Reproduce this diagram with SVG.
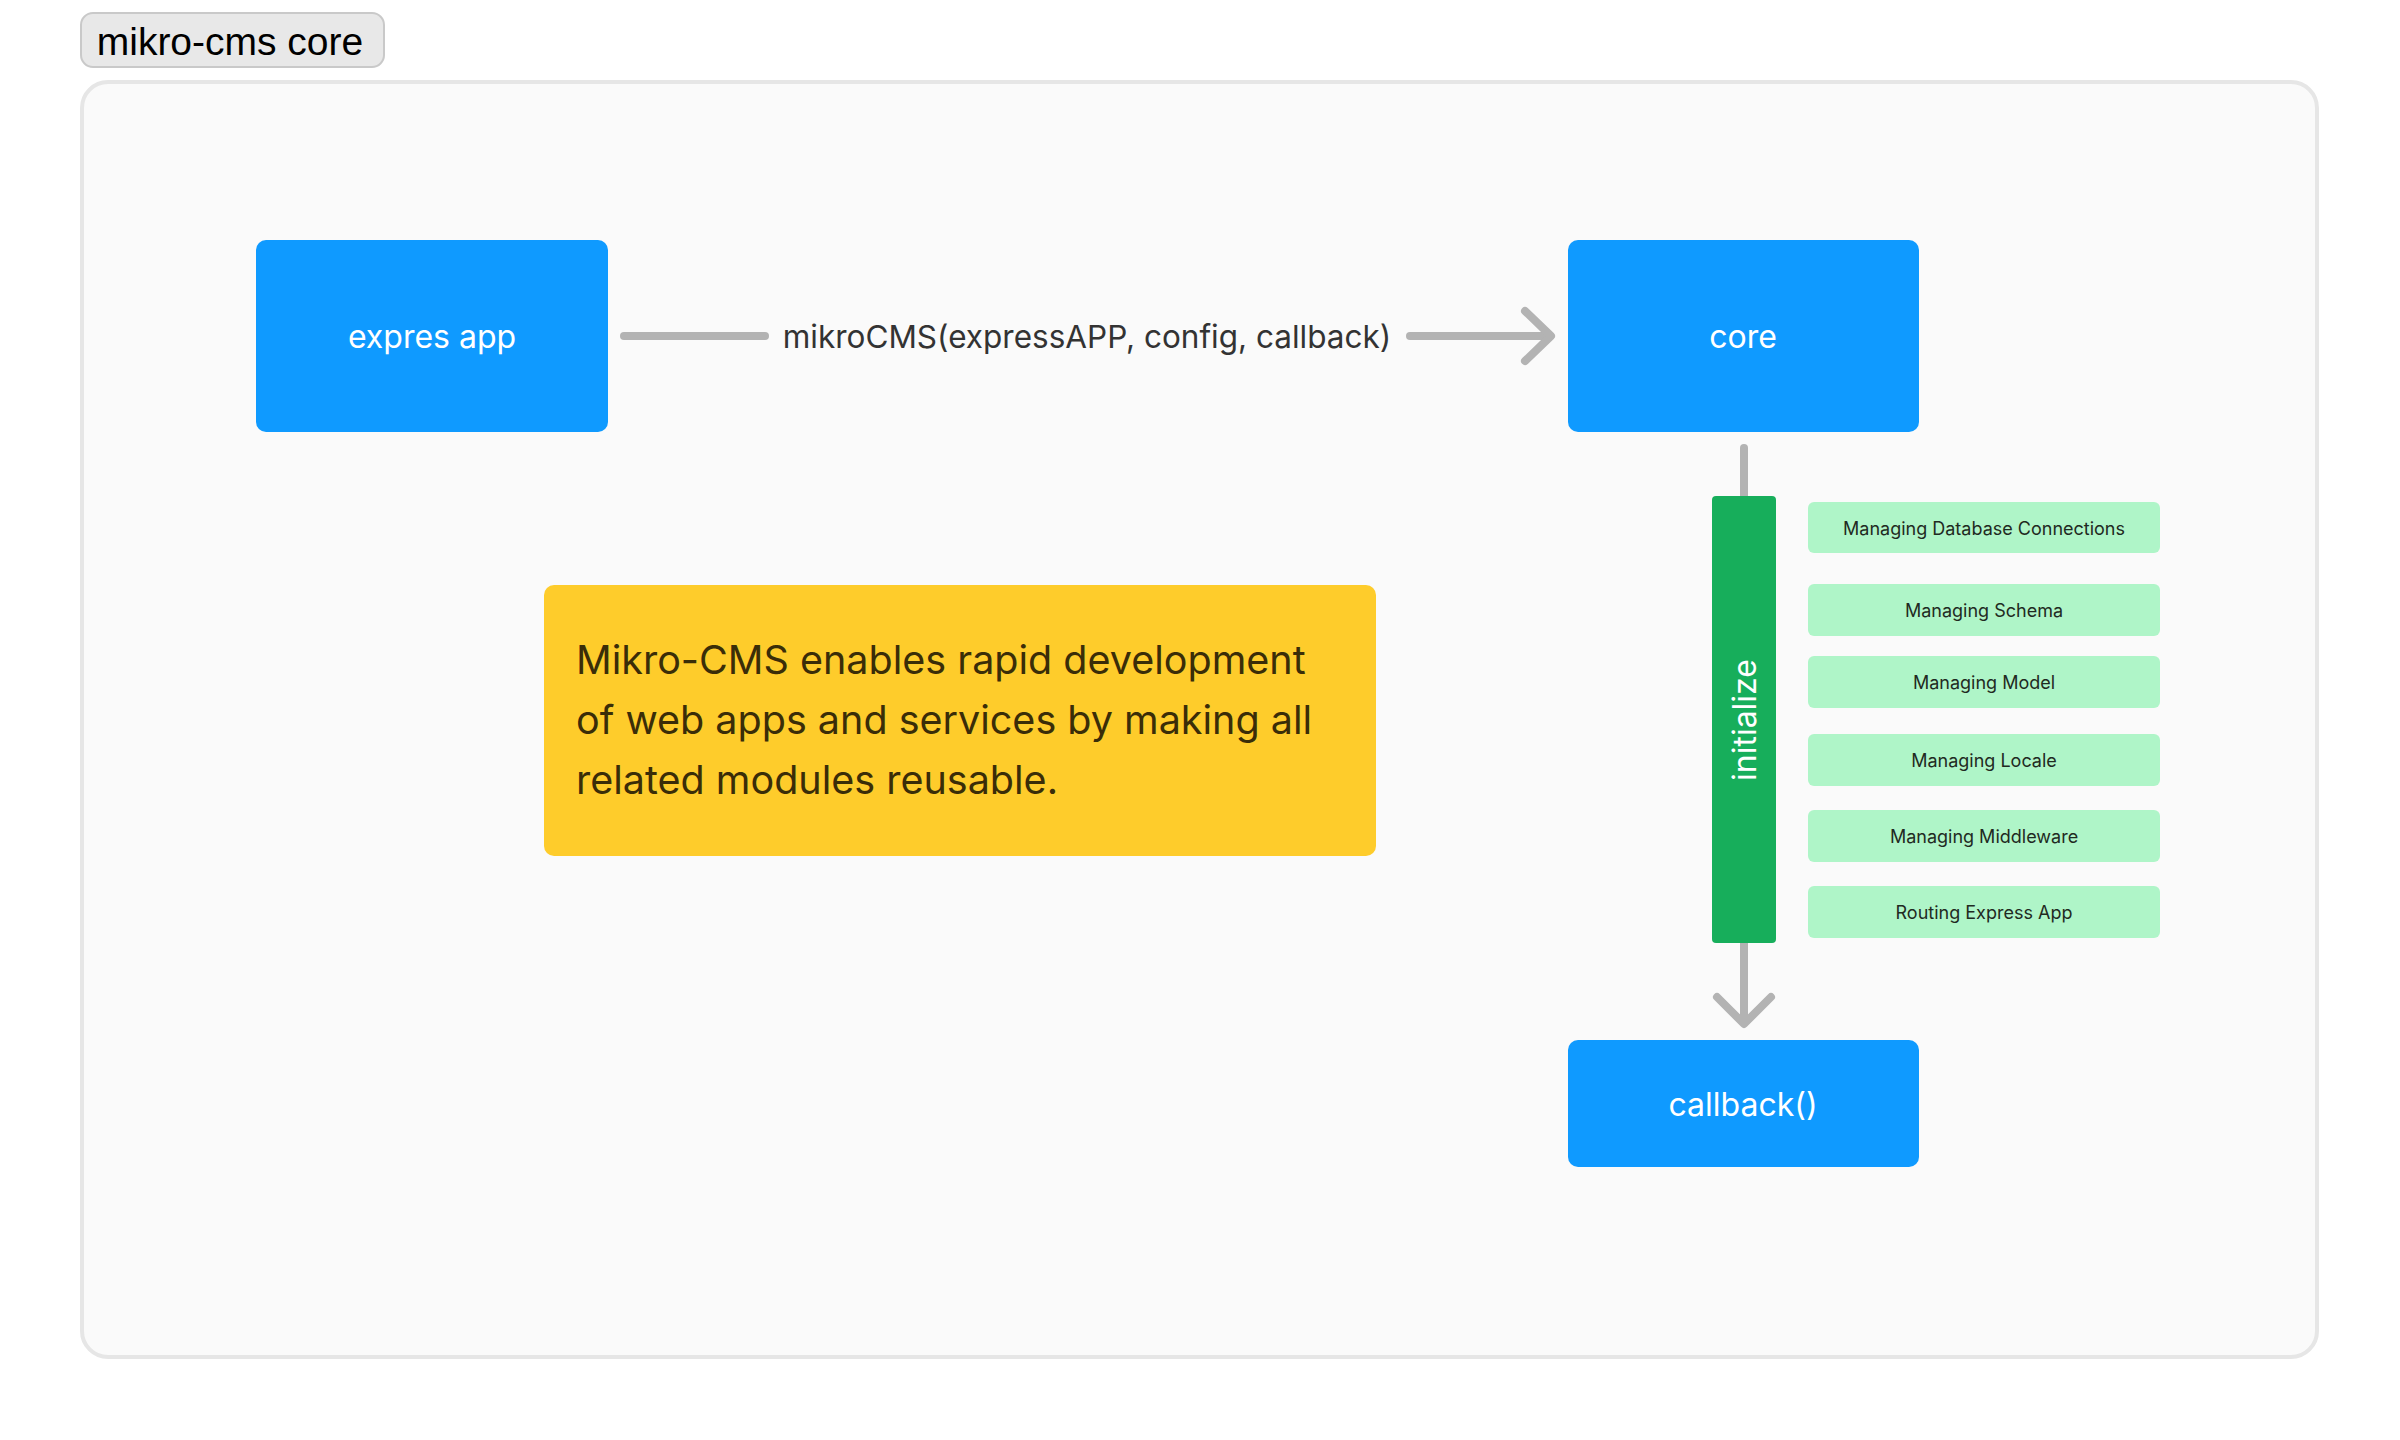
<svg xmlns="http://www.w3.org/2000/svg" width="2400" height="1440" viewBox="0 0 2400 1440">
<defs>
<style>
.blue{fill:#0f9aff}
.bt{fill:#ffffff;font-family:Inter,"Noto Sans",sans-serif;font-size:32px;text-anchor:middle;dominant-baseline:central}
.item{fill:#aff5c8}
.it{fill:#1f2a22;font-family:Inter,"Noto Sans",sans-serif;font-size:18px;text-anchor:middle;dominant-baseline:central}
.conn{stroke:#b3b3b3;stroke-width:8;fill:none;stroke-linecap:round;stroke-linejoin:round}
</style>
</defs>
<rect x="0" y="0" width="2400" height="1440" fill="#ffffff"/>
<g id="frame">
<rect x="82" y="82" width="2235" height="1275" rx="26" fill="#fafafa" stroke="#e6e6e6" stroke-width="4"/>
</g>
<g id="frame-label">
<rect x="81" y="13" width="303" height="54" rx="12" fill="#e8e8e8" stroke="#c9c9c9" stroke-width="2"/>
<text x="230" y="55" font-family="Liberation Sans, Arial, sans-serif" font-size="39" fill="#000000" text-anchor="middle">mikro-cms core</text>
</g>
<g id="connectors">
<line class="conn" x1="624" y1="336" x2="765" y2="336"/>
<text x="1087" y="336" font-family="Inter, 'Noto Sans', sans-serif" font-size="31.5" fill="#333333" text-anchor="middle" dominant-baseline="central">mikroCMS(expressAPP, config, callback)</text>
<line class="conn" x1="1410" y1="336" x2="1550" y2="336"/>
<polyline class="conn" points="1525,311 1551,336 1525,361"/>
<line class="conn" x1="1744" y1="448" x2="1744" y2="496"/>
<line class="conn" x1="1744" y1="943" x2="1744" y2="1022"/>
<polyline class="conn" points="1717,997 1744,1024 1771,997"/>
</g>
<g id="expres-app">
<rect class="blue" x="256" y="240" width="352" height="192" rx="10"/>
<text class="bt" x="432" y="336">expres app</text>
</g>
<g id="core">
<rect class="blue" x="1568" y="240" width="351" height="192" rx="10"/>
<text class="bt" x="1743" y="336">core</text>
</g>
<g id="callback">
<rect class="blue" x="1568" y="1040" width="351" height="127" rx="10"/>
<text class="bt" x="1743" y="1104">callback()</text>
</g>
<g id="initialize">
<rect x="1712" y="496" width="64" height="447" rx="4" fill="#17ae5b"/>
<text class="bt" x="0" y="0" transform="translate(1744,720) rotate(-90)">initialize</text>
</g>
<g id="note">
<rect x="544" y="585" width="832" height="271" rx="10" fill="#fecc2b"/>
<text font-family="Inter, 'Noto Sans', sans-serif" font-size="39.5" fill="#3a2d08">
<tspan x="576" y="674">Mikro-CMS enables rapid development</tspan>
<tspan x="576" y="734">of web apps and services by making all</tspan>
<tspan x="576" y="794">related modules reusable.</tspan>
</text>
</g>
<g id="item-db">
<rect class="item" x="1808" y="502" width="352" height="51" rx="6"/>
<text class="it" x="1984" y="528">Managing Database Connections</text>
</g>
<g id="item-schema">
<rect class="item" x="1808" y="584" width="352" height="52" rx="6"/>
<text class="it" x="1984" y="610">Managing Schema</text>
</g>
<g id="item-model">
<rect class="item" x="1808" y="656" width="352" height="52" rx="6"/>
<text class="it" x="1984" y="682">Managing Model</text>
</g>
<g id="item-locale">
<rect class="item" x="1808" y="734" width="352" height="52" rx="6"/>
<text class="it" x="1984" y="760">Managing Locale</text>
</g>
<g id="item-middleware">
<rect class="item" x="1808" y="810" width="352" height="52" rx="6"/>
<text class="it" x="1984" y="836">Managing Middleware</text>
</g>
<g id="item-routing">
<rect class="item" x="1808" y="886" width="352" height="52" rx="6"/>
<text class="it" x="1984" y="912">Routing Express App</text>
</g>
</svg>
